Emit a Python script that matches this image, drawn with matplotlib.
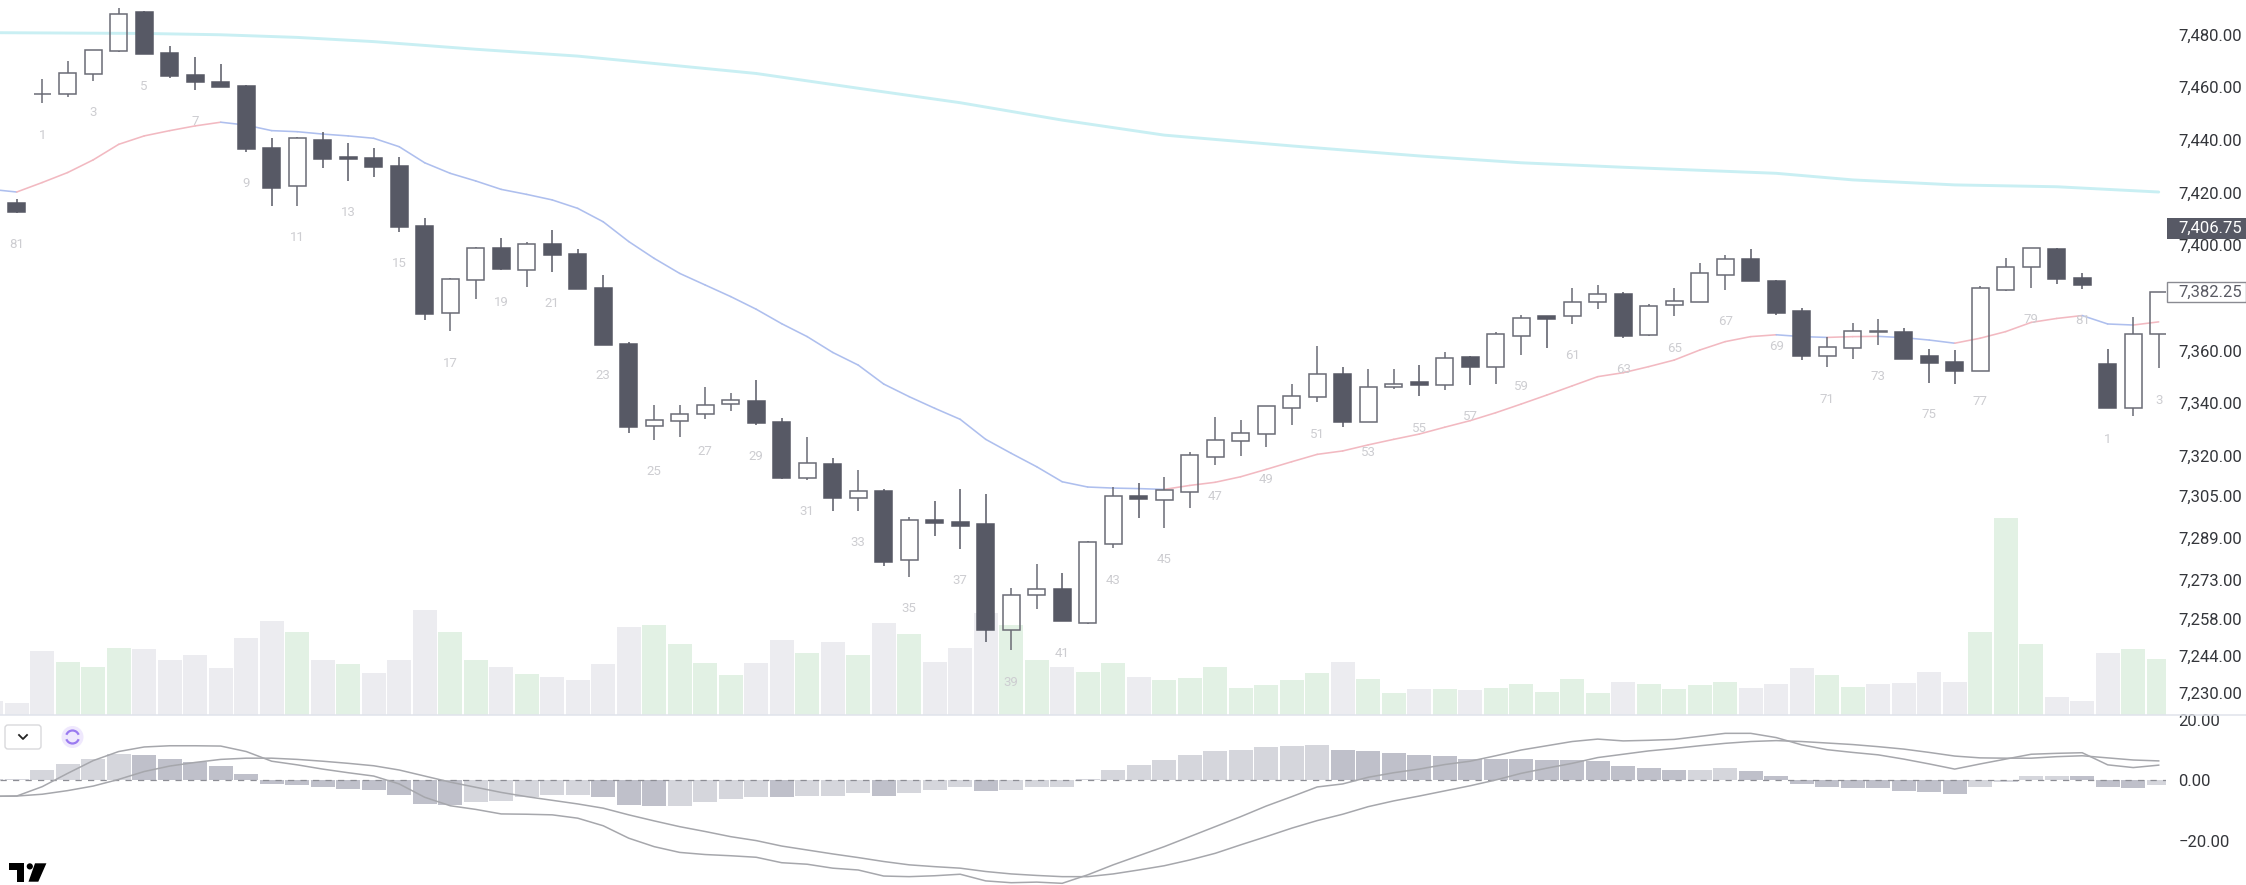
import matplotlib
matplotlib.use("Agg")
import matplotlib.pyplot as plt
from matplotlib.patches import Rectangle, Polygon, Circle, FancyBboxPatch, Arc

plt.rcParams['font.family'] = ['Roboto', 'DejaVu Sans']

# ---- data -----------------------------------------------------------------
opens = [7416.2,7457.3,7457.4,7465.0,7473.9,7488.4,7472.9,7464.8,7462.0,7460.6,
         7436.8,7422.4,7440.1,7433.6,7433.0,7430.2,7407.4,7374.1,7386.9,7399.0,
         7390.7,7400.3,7396.5,7383.8,7362.5,7331.5,7333.4,7335.8,7339.6,7340.7,
         7332.8,7311.5,7317.1,7304.0,7306.7,7280.4,7295.8,7294.9,7294.0,7253.9,
         7267.1,7269.4,7256.7,7286.6,7304.9,7303.2,7306.4,7319.6,7325.8,7328.2,
         7338.1,7342.4,7351.1,7332.8,7346.2,7348.1,7347.1,7357.4,7353.8,7365.5,
         7373.0,7373.1,7378.3,7381.5,7366.0,7377.4,7378.4,7388.8,7394.8,7386.3,
         7374.9,7358.1,7360.9,7366.9,7367.2,7357.8,7355.8,7352.3,7383.0,7391.6,
         7398.4,7387.6,7355.0,7338.1,7366.2]
closes = [7412.7,7457.5,7465.3,7474.1,7487.8,7472.5,7464.4,7462.0,7460.1,7436.4,
          7421.7,7440.6,7432.6,7432.6,7429.8,7407.0,7374.0,7387.1,7398.8,7391.0,
          7400.3,7396.3,7383.5,7362.1,7331.0,7333.5,7335.9,7339.2,7341.1,7332.4,
          7311.5,7317.5,7303.9,7306.7,7279.9,7295.8,7294.4,7293.5,7253.8,7267.3,
          7269.4,7257.2,7287.2,7304.8,7303.5,7307.1,7320.4,7326.1,7328.8,7338.8,
          7342.6,7351.1,7332.8,7346.3,7347.4,7346.9,7357.3,7353.6,7366.3,7372.4,
          7372.1,7378.6,7381.4,7365.5,7377.1,7378.7,7389.3,7394.6,7386.3,7374.4,
          7357.9,7361.5,7367.6,7367.3,7356.9,7355.4,7352.3,7383.8,7391.9,7399.0,
          7387.2,7384.8,7338.1,7366.2,7382.25]
highs = [7417.4,7463.0,7469.9,7474.1,7489.9,7488.9,7475.6,7471.3,7468.7,7460.8,
         7440.6,7441.2,7442.9,7438.7,7436.8,7433.6,7410.5,7387.7,7399.5,7402.9,
         7401.4,7405.8,7398.6,7388.6,7363.1,7339.3,7339.3,7346.0,7343.8,7348.8,
         7334.3,7327.1,7319.1,7314.7,7307.3,7296.7,7303.0,7307.3,7305.4,7269.7,
         7278.9,7275.4,7287.8,7308.1,7309.6,7311.9,7321.4,7334.7,7333.6,7338.8,
         7347.4,7361.6,7353.6,7353.0,7353.0,7354.5,7359.3,7357.9,7366.9,7373.4,
         7373.1,7383.9,7384.8,7382.1,7377.7,7383.9,7393.4,7396.2,7398.4,7386.8,
         7376.3,7365.3,7370.6,7372.1,7368.7,7360.6,7360.2,7384.6,7395.2,7399.1,
         7398.8,7389.5,7360.6,7372.9,7382.25]
lows = [7412.4,7453.9,7456.4,7462.5,7473.2,7472.5,7463.4,7458.9,7460.1,7435.5,
        7415.0,7415.0,7429.3,7424.5,7426.0,7405.2,7371.6,7367.3,7379.7,7390.5,
        7384.3,7390.0,7383.5,7362.1,7328.6,7326.0,7327.3,7333.9,7337.2,7331.9,
        7311.1,7311.0,7299.2,7299.2,7278.3,7274.2,7289.7,7284.5,7249.5,7246.3,
        7261.9,7257.2,7256.2,7285.1,7296.4,7292.5,7300.1,7316.7,7320.0,7323.4,
        7331.8,7340.4,7331.0,7332.8,7345.4,7342.8,7345.0,7346.9,7347.4,7358.3,
        7361.1,7370.2,7375.8,7364.9,7365.5,7373.0,7378.4,7383.0,7386.3,7373.5,
        7356.4,7353.6,7356.9,7362.1,7356.9,7347.8,7347.4,7352.3,7382.8,7383.9,
        7385.4,7383.5,7338.1,7335.2,7353.3]

# pane series start one bar before the first full candle (bar -1 is cut by the left edge)
pane_start = -1
volumes = [13.3,11.7,63.3,53,48,66.7,65.3,54.3,59.3,46.7,76.7,
           94,83,54.3,50.7,41.7,54.3,104.3,83,54.3,48,
           40.3,38,34.3,50.7,88,89.3,70.7,51.7,39.3,51.7,
           74.3,61.7,73,59.3,91.7,80.3,53,66.7,101.7,89.3,
           54.3,48,43,51.7,38,34.3,36.7,48,26.7,29.3,
           34.3,41.7,53,35.7,21.7,25.7,25.7,24.3,26.7,30.3,
           23,35.7,21.7,33,30.3,25.7,29.3,33,26.7,30.3,
           46.7,39.3,28,30.3,31.7,43,33,83,196.3,70.7,
           18,13.3,61.7,65.3,55.3]
volume_green = [2,3,4,11,13,17,18,20,25,26,27,28,31,33,35,39,40,42,43,
                45,46,47,48,49,50,51,53,54,56,58,59,60,61,62,64,65,66,67,
                71,72,77,78,79,83,84]

ma_values = [7421.2,7420.2,7423.8,7427.6,7432.4,7438.3,7441.5,7443.5,7445.3,7446.7,
             7445.6,7443.5,7443.1,7442.2,7441.5,7440.6,7437.4,7431.3,7427.3,7424.4,
             7421.2,7419.3,7417.2,7414.0,7408.9,7401.4,7395.0,7389.3,7384.9,7380.5,
             7375.7,7370.2,7365.3,7359.3,7354.5,7347.3,7342.5,7338.1,7333.9,7326.3,
             7321.0,7315.9,7310.2,7308.2,7307.8,7307.6,7307.3,7308.8,7310.0,7312.1,
             7314.9,7317.8,7320.6,7321.9,7324.2,7326.3,7328.3,7330.9,7333.4,7336.4,
             7339.7,7343.1,7346.6,7350.1,7351.6,7353.9,7356.4,7360.2,7363.4,7365.3,
             7366.0,7365.3,7365.0,7365.3,7365.4,7364.9,7364.0,7362.8,7364.7,7367.2,
             7370.7,7372.2,7373.3,7370.1,7369.7,7370.9]

ema_bars = [-1,5,8,11,14,18,22,25,29,33,37,41,45,50,55,59,63,69,72,76,80,84]
ema_values = [7480.7,7480.4,7479.9,7478.9,7477.3,7474.4,7471.8,7469.0,7465.2,7459.6,
              7454.1,7447.5,7441.8,7437.7,7433.9,7431.3,7429.6,7427.3,7424.8,7422.9,
              7422.2,7420.2]

label_texts = ['81','1','3','5','7','9','11','13','15','17','19','21','23','25','27','29',
               '31','33','35','37','39','41','43','45','47','49','51','53','55','57','59',
               '61','63','65','67','69','71','73','75','77','79','81','1','3']
label_bars = [0,1,3,5,7,9,11,13,15,17,19,21,23,25,27,29,31,33,35,37,39,41,43,45,47,49,
              51,53,55,57,59,61,63,65,67,69,71,73,75,77,79,81,82,84]
label_prices = [7400.1,7441.8,7450.3,7460.2,7446.9,7423.5,7403.0,7412.5,7393.1,7355.2,
                7378.3,7378.0,7350.5,7314.0,7321.6,7319.7,7298.8,7287.2,7262.0,7272.6,
                7234.1,7245.1,7272.9,7280.5,7304.5,7311.2,7328.3,7321.2,7330.5,7334.9,
                7346.3,7358.1,7352.9,7360.9,7371.0,7361.5,7341.5,7350.1,7335.8,7340.6,
                7371.9,7371.3,7326.4,7341.0]

macd_hist = [0.4,0.4,3.4,5.4,7.0,8.8,8.4,7.0,5.9,4.6,2.2,
             -1.1,-1.5,-2.3,-2.9,-3.2,-4.8,-7.7,-8.1,-7.3,-6.8,
             -5.6,-4.8,-4.8,-5.6,-8.1,-8.5,-8.5,-7.3,-6.1,-5.6,
             -5.6,-5.2,-5.2,-4.3,-5.2,-4.3,-3.2,-2.3,-3.5,-3.2,
             -2.3,-2.3,0.5,3.4,5.1,6.7,8.4,9.6,10.0,10.9,
             11.2,11.7,10.0,9.6,9.1,8.4,7.9,7.0,7.0,7.0,
             6.7,6.7,6.3,4.6,4.2,3.4,3.4,3.9,3.0,1.3,
             -1.1,-2.3,-2.7,-2.7,-3.5,-4.0,-4.4,-2.3,-0.7,1.3,
             1.3,1.3,-2.3,-2.7,-1.5]
hist_dark = [5,6,7,8,9,10,11,12,13,14,15,16,17,23,24,25,30,34,38,
             52,53,54,55,56,57,58,59,60,61,62,63,64,65,68,69,70,71,72,73,74,75,76,81,82,83]
macd_line = [-5.3,-5.2,-2.1,2.3,6.5,9.5,11.0,11.4,11.4,11.3,9.5,
             6.3,5.1,3.7,2.5,1.4,-1.2,-5.6,-8.4,-9.6,-11.1,
             -11.2,-11.4,-12.5,-15.0,-19.1,-21.9,-23.8,-24.5,-24.9,-25.4,
             -27.2,-27.7,-29.0,-29.6,-31.6,-31.8,-31.5,-31.0,-33.2,-33.8,
             -33.6,-34.0,-31.2,-27.9,-24.9,-21.9,-18.6,-15.3,-12.0,-8.5,
             -5.4,-2.2,-1.2,1.0,2.5,3.7,5.2,6.3,8.1,10.0,
             11.4,12.8,13.6,13.0,13.2,13.5,14.5,15.5,15.5,14.1,
             11.7,10.1,9.2,8.4,7.0,5.4,3.7,5.4,7.0,8.6,
             8.9,9.1,5.1,4.2,5.0]
signal_line = [-5.3,-5.2,-4.6,-3.4,-1.9,0.3,2.9,4.7,5.9,6.9,7.3,
               7.3,6.9,6.3,5.6,4.8,3.4,1.4,-0.6,-2.3,-4.0,
               -5.4,-6.6,-7.8,-9.2,-11.4,-13.4,-15.3,-16.9,-18.6,-19.9,
               -21.7,-23.0,-24.3,-25.5,-26.8,-27.9,-28.5,-29.0,-30.1,-30.9,
               -31.4,-31.8,-31.8,-30.9,-29.6,-28.2,-26.3,-24.1,-21.3,-18.6,
               -15.8,-13.3,-11.2,-8.7,-6.8,-5.2,-3.5,-1.8,0.1,2.3,
               4.0,5.6,7.5,8.6,9.7,10.5,11.4,12.2,12.8,13.1,
               12.8,12.3,11.8,11.1,10.3,9.2,8.0,7.4,7.3,7.3,
               7.8,8.1,7.4,6.7,6.4]

price_ticks = [7480,7460,7440,7420,7400,7360,7340,7320,7305,7289,7273,7258,7244,7230]
macd_ticks = [20,0,-20]
last_close = 7382.25
last_badge = 7406.75

# ---- style ----------------------------------------------------------------
W, H = 2246, 885
DARK = '#575965'
HOLLOW = '#6a6b75'
TXT = '#34363b'
BLUE = '#aebfee'
PINK = '#f2b9c1'
CYAN = '#c9eff3'
bar_px = 25.5
x0_px = 16.7
plot_w = 2166
split_y = 714.5

fig = plt.figure(figsize=(W/100, H/100), dpi=100, facecolor='white')
def axes_px(l, t, r, b, **kw):
    return fig.add_axes([l/W, 1-b/H, (r-l)/W, (b-t)/H], **kw)

xlim = ((0-x0_px)/bar_px, (plot_w-x0_px)/bar_px)
bars = list(range(len(closes)))
pane_bars = list(range(pane_start, len(closes)))

# volume pane (same area as the price pane)
ax_v = axes_px(0, 0, plot_w, split_y, zorder=0)
ax_v.set_xlim(xlim); ax_v.set_ylim(0, split_y); ax_v.axis('off')
vcols = ['#e2f1e4' if i in volume_green else '#ececf0' for i in pane_bars]
ax_v.bar(pane_bars, volumes, width=0.94, color=vcols, linewidth=0)

# price pane
ax = axes_px(0, 0, plot_w, split_y, zorder=1)
ax.patch.set_visible(False)
ax.set_xlim(xlim)
ax.set_ylim(7480-(split_y-34.5)/2.634, 7480+34.5/2.634)
for s in ax.spines.values():
    s.set_visible(False)
ax.set_xticks([])
ax.yaxis.tick_right()
ax.set_yticks(price_ticks)
ax.set_yticklabels([f'{v:,.2f}' for v in price_ticks], fontsize=12, color=TXT)
ax.tick_params(axis='y', length=0, pad=9)

# moving averages
ax.plot(ema_bars, ema_values, color=CYAN, lw=2.1, zorder=2, solid_capstyle='round')
ma_x = list(range(pane_start, pane_start+len(ma_values)))
for k in range(len(ma_values)-1):
    col = PINK if ma_values[k+1] >= ma_values[k] else BLUE
    ax.plot(ma_x[k:k+2], ma_values[k:k+2], color=col, lw=1.15, zorder=2, solid_capstyle='round')

# candles
for i in bars:
    o, h, l, c = opens[i], highs[i], lows[i], closes[i]
    top, bot = max(o, c), min(o, c)
    up = c >= o
    col = HOLLOW if up else DARK
    ax.vlines(i, top, h, color=col, lw=1.1, zorder=3)
    ax.vlines(i, l, bot, color=col, lw=1.1, zorder=3)
    ax.add_patch(Rectangle((i-0.34, bot), 0.68, top-bot,
                           facecolor='none' if up else DARK,
                           edgecolor=col, lw=1.1, zorder=4))

# bar-count labels
for t, b, p in zip(label_texts, label_bars, label_prices):
    ax.text(b, p, t, ha='center', va='center', fontsize=9.5, color='#cdcdd1', zorder=5)

# MACD pane
ax_m = axes_px(0, split_y, plot_w, H, zorder=1)
ax_m.patch.set_visible(False)
ax_m.set_xlim(xlim)
ax_m.set_ylim((780.3-H)/3.03, (780.3-split_y)/3.03)
for s in ax_m.spines.values():
    s.set_visible(False)
ax_m.set_xticks([])
ax_m.yaxis.tick_right()
ax_m.set_yticks(macd_ticks)
ax_m.set_yticklabels(['20.00', '0.00', '\u221220.00'], fontsize=12, color=TXT)
ax_m.tick_params(axis='y', length=0, pad=9)
hcols = ['#bfc0ca' if i in hist_dark else '#d5d6dc' for i in pane_bars]
ax_m.bar(pane_bars, macd_hist, width=0.94, color=hcols, linewidth=0, zorder=1)
ax_m.axhline(0, color='#8d8e95', lw=0.9, dashes=(5, 5), zorder=2)
ax_m.plot(pane_bars, macd_line, color='#a6a7ac', lw=1.1, zorder=3)
ax_m.plot(pane_bars, signal_line, color='#a6a7ac', lw=1.1, zorder=3)

# overlay: separator, price badges, widgets, logo (pixel coordinates)
ov = fig.add_axes([0, 0, 1, 1], zorder=10)
ov.set_xlim(0, W); ov.set_ylim(H, 0); ov.axis('off'); ov.patch.set_visible(False)
ov.plot([0, W], [split_y, split_y], color='#e0e3eb', lw=1.1)

ov.add_patch(Rectangle((2167, 218), 79, 21, facecolor='#575965', edgecolor='none'))
ov.text(2178.6, 228.5, f'{last_badge:,.2f}', color='white', fontsize=12, va='center', ha='left')
ov.add_patch(Rectangle((2167, 282), 78.5, 20, facecolor='white', edgecolor='#8a8b92', lw=1))
ov.text(2178.6, 292, f'{last_close:,.2f}', color='#5a5b64', fontsize=12, va='center', ha='left')

ov.add_patch(FancyBboxPatch((5, 725), 36, 24, boxstyle='round,pad=0,rounding_size=3',
                            facecolor='white', edgecolor='#d9d9dc', lw=1))
ov.plot([19, 23, 27], [735, 739, 735], color='#222222', lw=1.3)
ov.add_patch(Circle((72.5, 737), 11, facecolor='#efe8fd', edgecolor='none'))
ov.add_patch(Arc((72.5, 737), 13, 13, theta1=200, theta2=340, color='#9a7af0', lw=1.6))
ov.add_patch(Arc((72.5, 737), 13, 13, theta1=20, theta2=160, color='#9a7af0', lw=1.6))

ov.add_patch(Polygon([(8.6,863.3),(24,863.3),(24,881.7),(16.7,881.7),(16.7,869.5),(8.6,869.5)],
                     facecolor='black', edgecolor='none'))
ov.add_patch(Circle((29.8, 866.4), 3.1, facecolor='black', edgecolor='none'))
ov.add_patch(Polygon([(35,863.3),(46.4,863.3),(38.3,881.7),(28.5,881.7)],
                     facecolor='black', edgecolor='none'))

fig.savefig('out.png', dpi=100, facecolor='white')
